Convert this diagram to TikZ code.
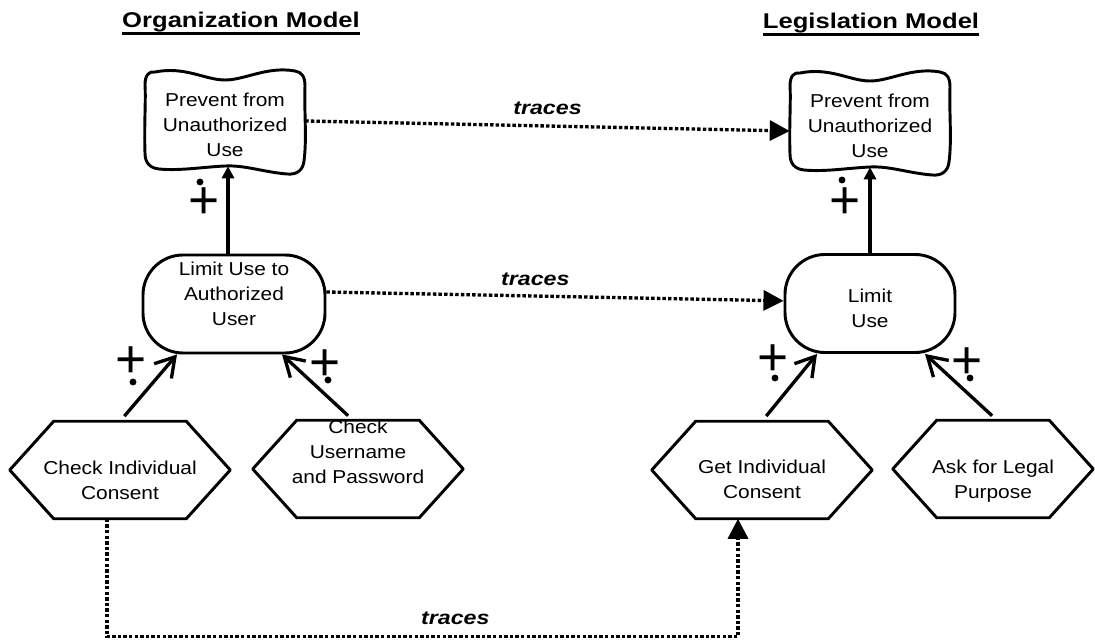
\documentclass[tikz,border=0pt]{standalone}
\usepackage{fontspec}
\setmainfont{Liberation Sans}[FakeStretch=1.12]
\newfontfamily\widefont{Liberation Sans}[FakeStretch=1.2]
\newfontfamily\markfont{Liberation Sans}
\usetikzlibrary{arrows.meta,calc}

% multi-line cell text, shifted vertically without changing its box
\newcommand{\celltext}[2]{\raisebox{#1}[\height][\depth]{\begin{tabular}{@{}c@{}}#2\end{tabular}}}

% wavy softgoal outline around a node
\newcommand{\softoutline}[1]{%
  \draw[outline, shift={(#1.center)}]
    (-70,-49) .. controls (-40,-55) and (-20,-41) .. (0,-41)
    .. controls (20,-41) and (42,-55) .. (70,-50)
    .. controls (77,-49) and (80,-44) .. (80,-35)
    .. controls (79,-12) and (82,18) .. (79,40)
    .. controls (78,49) and (72,54) .. (62,53)
    .. controls (38,51) and (20,44) .. (0,45)
    .. controls (-22,46) and (-45,50) .. (-66,48)
    .. controls (-75,47) and (-80,42) .. (-80,32)
    .. controls (-81,5) and (-79,-22) .. (-80,-36)
    .. controls (-80,-46) and (-76,-50) .. (-70,-49) -- cycle;}

% hexagonal task outline around a node
\newcommand{\hexoutline}[1]{%
  \draw[outline] (#1.west) -- ([xshift=33pt]#1.north west) -- ([xshift=-33pt]#1.north east)
    -- (#1.east) -- ([xshift=-33pt]#1.south east) -- ([xshift=33pt]#1.south west) -- cycle;}

\tikzset{
  outline/.style={line width=2.2pt, line join=round},
  goalbox/.style={minimum width=120pt, minimum height=67.5pt, inner sep=0pt},
  stadium/.style={draw, line width=2.2pt, rounded corners=30pt, minimum height=73.5pt, inner sep=0pt},
  hexbox/.style={minimum height=72.75pt, inner sep=0pt},
  header/.style={font=\widefont\bfseries\fontsize{16}{19}\selectfont, inner sep=0pt, anchor=base},
  tracelabel/.style={font=\widefont\bfseries\itshape\fontsize{14.5}{17}\selectfont, inner sep=0pt},
  traceline/.style={line width=2.5pt, dash pattern=on 2.6pt off 1.6pt, -{Triangle[length=15pt,width=15pt]}},
  support/.style={line width=2.5pt, -{Triangle[length=9pt,width=9pt]}},
  contrib/.style={line width=2.5pt, -{Straight Barb[length=14pt,width=17pt]}},
  plusmark/.style={font=\markfont\fontsize{40}{40}\selectfont, inner sep=0pt},
}

\begin{document}
\begin{tikzpicture}[x=0.75pt, y=-0.75pt, font=\fontsize{14}{18.75}\selectfont]
\useasboundingbox (0,0) rectangle (1095,641);

% model headers
\node[header] (hdrOrg) at (241,28) {Organization Model};
\node[header] (hdrLeg) at (871,29) {Legislation Model};
\draw[line width=2.4pt] ([yshift=-4pt]hdrOrg.base west) -- ([yshift=-4pt]hdrOrg.base east);
\draw[line width=2.4pt] ([yshift=-4pt]hdrLeg.base west) -- ([yshift=-4pt]hdrLeg.base east);

% softgoals
\node[goalbox] (prevO) at (225,121) {\celltext{-4pt}{Prevent from\\Unauthorized\\Use}};
\softoutline{prevO}
\node[goalbox] (prevL) at (870,122) {\celltext{-4pt}{Prevent from\\Unauthorized\\Use}};
\softoutline{prevL}

% goals
\node[stadium, minimum width=136.5pt] (limO) at (234,304) {\celltext{6.5pt}{Limit Use to\\Authorized\\User}};
\node[stadium, minimum width=127.5pt] (limL) at (870,303.5) {\celltext{-5pt}{Limit\\Use}};

% tasks
\node[hexbox, minimum width=165pt] (chkCons) at (120,470) {\celltext{-9pt}{Check Individual\\Consent}};
\hexoutline{chkCons}
\node[hexbox, minimum width=157.5pt] (chkPwd) at (358,469) {\celltext{12pt}{Check\\Username\\and Password}};
\hexoutline{chkPwd}
\node[hexbox, minimum width=165pt] (getCons) at (762,470) {\celltext{-8pt}{Get Individual\\Consent}};
\hexoutline{getCons}
\node[hexbox, minimum width=150pt] (askPurp) at (993,469) {\celltext{-9pt}{Ask for Legal\\Purpose}};
\hexoutline{askPurp}

% goal -> softgoal support links
\draw[support] ([xshift=2.25pt]prevO.south |- limO.north) -- ([xshift=2.25pt]prevO.south);
\draw[support] (limL.north) -- (prevL.south);

% task -> goal contributions
\draw[contrib, shorten <=5pt] (chkCons.north) -- ([xshift=-42.75pt]limO.south);
\draw[contrib, shorten <=5pt] ([xshift=-3.75pt]chkPwd.north) -- ([xshift=36pt]limO.south);
\draw[contrib, shorten <=5pt] (getCons.north) -- ([xshift=-39.75pt]limL.south);
\draw[contrib, shorten <=5pt] ([xshift=3pt]askPurp.north) -- ([xshift=41.25pt]limL.south);

% contribution marks
\node[plusmark] (sgO) at (204,203) {+};
\fill (200,182) circle (2.6pt);
\node[plusmark] (sgL) at (845,203) {+};
\fill (842,180) circle (2.6pt);
\node[plusmark] (ctA) at (131,362) {+};
\fill (133,382) circle (2.6pt);
\node[plusmark] (ctB) at (325,365) {+};
\fill (328,380) circle (2.6pt);
\node[plusmark] (ctC) at (773,360) {+};
\fill (775,378) circle (2.6pt);
\node[plusmark] (ctD) at (967,363) {+};
\fill (970,378) circle (2.6pt);

% traceability links
\draw[traceline] (prevO.east) -- node[tracelabel, pos=0.5, above=7.5pt] (trTop) {traces} ([yshift=-6.75pt]prevL.west);
\draw[traceline] ([yshift=9pt]limO.east) -- node[tracelabel, pos=0.457, above=6.75pt] (trMid) {traces} ([yshift=2pt]limL.west);
\draw[traceline] ([xshift=-9.75pt]chkCons.south) -- ++(0,118) -| node[tracelabel, pos=0.276, above=7.5pt] (trBot) {traces} ([xshift=-18pt]getCons.south);
\end{tikzpicture}
\end{document}
